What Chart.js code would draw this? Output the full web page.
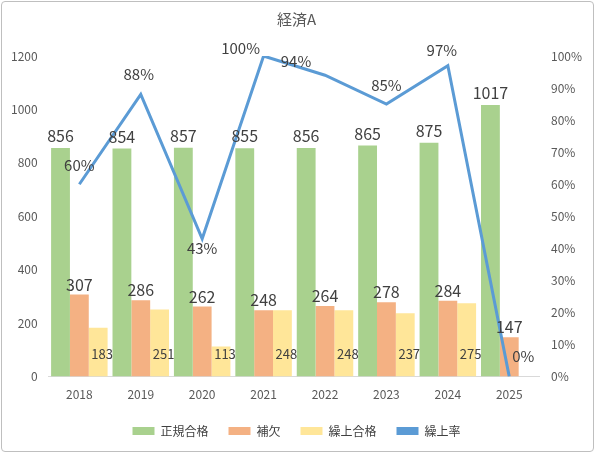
<!DOCTYPE html>
<html><head><meta charset="utf-8">
<script src="https://cdn.jsdelivr.net/npm/chart.js@4/dist/chart.umd.min.js"></script>
<style>
html,body{margin:0;padding:0;background:#fff;}
#wrap{position:absolute;left:1px;top:1px;width:593px;height:451px;border:1px solid #bfbfbf;border-radius:4px;box-sizing:border-box;}
canvas{display:block;}
</style></head><body>
<div id="wrap"><canvas id="c"></canvas></div>
<script>
const categories=['2018','2019','2020','2021','2022','2023','2024','2025'];
const seikiValues=[856,854,857,855,856,865,875,1017];
const hoketsuValues=[307,286,262,248,264,278,284,147];
const kuriageValues=[183,251,113,248,248,237,275,null];
const rateValues=[60,88,43,100,94,85,97,0];
const FONT='"Noto Sans CJK JP","Noto Sans",sans-serif';

const labelPlugin={id:'lbl',afterDatasetsDraw(chart){
  const ctx=chart.ctx;ctx.save();ctx.textAlign='center';ctx.fillStyle='#404040';
  const m0=chart.getDatasetMeta(0),m1=chart.getDatasetMeta(1),m2=chart.getDatasetMeta(2),m3=chart.getDatasetMeta(3);
  ctx.font='16px '+FONT;ctx.textBaseline='bottom';
  m0.data.forEach((b,i)=>ctx.fillText(seikiValues[i],b.x,b.y-4));
  m1.data.forEach((b,i)=>ctx.fillText(hoketsuValues[i],b.x,b.y-2));
  ctx.font='13px '+FONT;ctx.textBaseline='middle';
  m2.data.forEach((b,i)=>{if(kuriageValues[i]!=null){const y0=chart.scales.y.getPixelForValue(0);ctx.fillText(kuriageValues[i],b.x+4,y0-23);}});
  ctx.font='15px '+FONT;
  const off=[[0,-19],[-2,-20],[0,10],[-23,-8],[-29,-14],[0,-19],[-6,-15],[14,-20]];
  m3.data.forEach((p,i)=>ctx.fillText(rateValues[i]+'%',p.x+off[i][0],p.y+off[i][1]));
  ctx.restore();
}};

new Chart(document.getElementById('c'),{
  data:{labels:categories,datasets:[
    {type:'bar',label:'正規合格',data:seikiValues,backgroundColor:'#a9d18e',yAxisID:'y',order:1},
    {type:'bar',label:'補欠',data:hoketsuValues,backgroundColor:'#f4b183',yAxisID:'y',order:1},
    {type:'bar',label:'繰上合格',data:kuriageValues,backgroundColor:'#ffe699',yAxisID:'y',order:1},
    {type:'line',label:'繰上率',data:rateValues,borderColor:'#5b9bd5',backgroundColor:'#5b9bd5',borderWidth:3,pointRadius:0,yAxisID:'y1',order:0,tension:0}
  ]},
  options:{responsive:true,maintainAspectRatio:false,animation:false,
    layout:{padding:{left:6,right:8,top:4,bottom:4}},
    datasets:{bar:{categoryPercentage:0.92,barPercentage:1}},
    plugins:{title:{display:true,text:'経済A',color:'#595959',font:{family:FONT,size:15,weight:'normal'},padding:{top:4,bottom:28}},
      legend:{position:'bottom',labels:{boxWidth:22,boxHeight:8,color:'#404040',font:{family:FONT,size:12},padding:20,
        generateLabels(chart){return chart.data.datasets.map((d,i)=>({text:d.label,fillStyle:d.type==='line'?'#5b9bd5':d.backgroundColor,strokeStyle:'transparent',lineWidth:0,datasetIndex:i,fontColor:'#404040'}));}}},
      tooltip:{enabled:false}},
    scales:{
      x:{grid:{display:false},border:{color:'#d9d9d9'},ticks:{color:'#595959',font:{family:FONT,size:12}}},
      y:{min:0,max:1200,ticks:{stepSize:200,color:'#595959',font:{family:FONT,size:12},callback:v=>String(v)},grid:{display:false},border:{display:false}},
      y1:{position:'right',min:0,max:100,ticks:{stepSize:10,color:'#595959',font:{family:FONT,size:12},callback:v=>v+'%'},grid:{display:false},border:{display:false}}
    }},
  plugins:[labelPlugin]
});
</script></body></html>
